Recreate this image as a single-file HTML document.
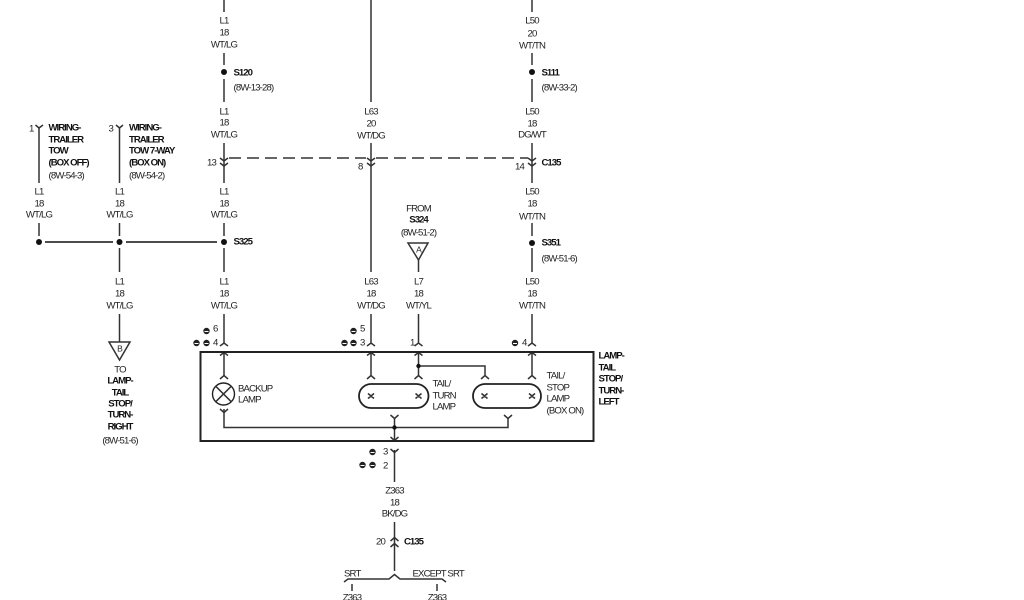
<!DOCTYPE html>
<html><head><meta charset="utf-8"><style>
html,body{margin:0;padding:0;background:#fff}
svg{display:block;filter:blur(.35px)}
text{font-family:"Liberation Sans",sans-serif;font-size:9.6px;fill:#222;letter-spacing:-.85px}
.c{text-anchor:middle}
.b{font-weight:bold;fill:#111;letter-spacing:-1px}
.w{fill:none;stroke:#333;stroke-width:1.5}
.k{fill:none;stroke:#222;stroke-width:2}
</style></head><body>
<svg width="1024" height="600" viewBox="0 0 1024 600" xmlns="http://www.w3.org/2000/svg">
<!-- wires -->
<path class="w" d="M39 127V183M39 223V236M119.500 127V183M119.500 223V236M119.500 248V272M119.500 314V342M224 0V12M224 53V65M224 79V102M224 143V183M224 223V236M224 248V272M224 314V343M224 352V375M224 409V427.500H508V418M371 0V102M371 143V272M371 314V343M371 352V375M532 0V12M532 53V65M532 79V102M532 143V183M532 223V236M532 248V272M532 314V343M532 352V375M418.500 260V272M418.500 314V343M418.500 352V375M418.500 366H485V375M394.500 418V441M394.500 450V482M394.500 522V571"/>
<path class="w" d="M45 242H113M126 242H217" style="stroke-width:1.800"/>
<path class="w" d="M229 158H241M247 158H366M376 158H528" style="stroke-dasharray:12 6"/>
<!-- connectors -->
<path class="w" d="M35.500 125L39 128L43 125M116 125L119.500 128L123 125
M220 158L224 161L228 158M220 163L224 166L228 163
M367 158L371 161L375 158M367 163L371 166L375 163
M528 158L532 161L536 158M528 163L532 166L536 163
M220 346L224 343L228 346M220 355.500L224 352.500L228 355.500M220 379L224 375.500L228 379M220 409L224 412.500L228 409
M367 346L371 343L375 346M367 355.500L371 352.500L375 355.500M367 379L371 375.500L375 379
M414.500 346L418.500 343L422.500 346M414.500 355.500L418.500 352.500L422.500 355.500M414.500 379L418.500 375.500L422.500 379
M481 379L485 375.500L489 379
M528 346L532 343L536 346M528 355.500L532 352.500L536 355.500M528 379L532 375.500L536 379
M504 415L508 418.500L512 415
M390.500 415L394.500 418.500L398.500 415M390.500 437L394.500 440.500L398.500 437
M390.500 449L394.500 452.500L398.500 449
M390.500 541L394.500 537.500L398.500 541M390.500 547L394.500 543.500L398.500 547
M344 582L348 579H389L394.500 574.500L400 579H442L446 582
M352 584V591M437 584V591"/>
<!-- dots -->
<g fill="#111">
<circle cx="39" cy="242" r="3"/><circle cx="119.500" cy="242" r="3"/><circle cx="224" cy="242" r="3"/>
<circle cx="224" cy="72" r="3"/><circle cx="532" cy="72" r="3"/><circle cx="532" cy="243" r="3"/>
<circle cx="418.500" cy="366" r="2.200"/><circle cx="394.500" cy="427.500" r="2.200"/>
</g>
<!-- box -->
<rect class="k" x="200.500" y="352" width="393" height="89"/>
<!-- backup lamp -->
<circle cx="223.500" cy="394" r="11" fill="none" stroke="#222" stroke-width="1.400"/>
<path class="w" d="M215.800 386.300L231.200 401.700M231.200 386.300L215.800 401.700"/>
<!-- lamps -->
<rect x="359" y="384" width="69.500" height="24" rx="12" fill="#fff" stroke="#222" stroke-width="1.800"/>
<rect x="473" y="384" width="68" height="24" rx="12" fill="#fff" stroke="#222" stroke-width="1.800"/>
<path class="w" d="M368 393.500L374 398.500M374 393.500L368 398.500M415.500 393.500L421.500 398.500M421.500 393.500L415.500 398.500M481.500 393.500L487.500 398.500M487.500 393.500L481.500 398.500M529 393.500L535 398.500M535 393.500L529 398.500"/>
<!-- triangles -->
<path class="w" d="M408 243H428L418.500 260Z"/>
<path class="w" d="M109 342H130L119.500 360Z"/>
<!-- ground symbols -->
<g fill="#222">
<circle cx="206.500" cy="331" r="3.200"/><circle cx="196.500" cy="343" r="3.200"/><circle cx="206.500" cy="343" r="3.200"/>
<circle cx="353.500" cy="331" r="3.200"/><circle cx="344.500" cy="343" r="3.200"/><circle cx="353.500" cy="343" r="3.200"/>
<circle cx="515" cy="343" r="3.200"/>
<circle cx="372.500" cy="452" r="3.200"/><circle cx="362.500" cy="465" r="3.200"/><circle cx="372.500" cy="465" r="3.200"/>
</g>
<g fill="#fff">
<rect x="204.500" y="331" width="4" height="1"/><rect x="194.500" y="343" width="4" height="1"/><rect x="204.500" y="343" width="4" height="1"/>
<rect x="351.500" y="331" width="4" height="1"/><rect x="342.500" y="343" width="4" height="1"/><rect x="351.500" y="343" width="4" height="1"/>
<rect x="513" y="343" width="4" height="1"/>
<rect x="370.500" y="452" width="4" height="1"/><rect x="360.500" y="465" width="4" height="1"/><rect x="370.500" y="465" width="4" height="1"/>
</g>
<g transform="translate(0,-0.700)">
<!-- wire labels -->
<text class="c" x="224" y="24">L1</text><text class="c" x="224" y="36">18</text><text class="c" x="224" y="48">WT/LG</text>
<text class="c" x="224" y="115">L1</text><text class="c" x="224" y="126">18</text><text class="c" x="224" y="138">WT/LG</text>
<text class="c" x="224" y="195">L1</text><text class="c" x="224" y="207">18</text><text class="c" x="224" y="218">WT/LG</text>
<text class="c" x="224" y="285">L1</text><text class="c" x="224" y="297">18</text><text class="c" x="224" y="309">WT/LG</text>
<text class="c" x="39" y="195">L1</text><text class="c" x="39" y="207">18</text><text class="c" x="39" y="218">WT/LG</text>
<text class="c" x="119.500" y="195">L1</text><text class="c" x="119.500" y="207">18</text><text class="c" x="119.500" y="218">WT/LG</text>
<text class="c" x="119.500" y="285">L1</text><text class="c" x="119.500" y="297">18</text><text class="c" x="119.500" y="309">WT/LG</text>
<text class="c" x="371" y="115">L63</text><text class="c" x="371" y="127">20</text><text class="c" x="371" y="139">WT/DG</text>
<text class="c" x="371" y="285">L63</text><text class="c" x="371" y="297">18</text><text class="c" x="371" y="309">WT/DG</text>
<text class="c" x="418.500" y="285">L7</text><text class="c" x="418.500" y="297">18</text><text class="c" x="418.500" y="309">WT/YL</text>
<text class="c" x="532" y="24">L50</text><text class="c" x="532" y="37">20</text><text class="c" x="532" y="49">WT/TN</text>
<text class="c" x="532" y="115">L50</text><text class="c" x="532" y="127">18</text><text class="c" x="532" y="138">DG/WT</text>
<text class="c" x="532" y="195">L50</text><text class="c" x="532" y="207">18</text><text class="c" x="532" y="220">WT/TN</text>
<text class="c" x="532" y="285">L50</text><text class="c" x="532" y="297">18</text><text class="c" x="532" y="309">WT/TN</text>
<text class="c" x="394.500" y="494">Z363</text><text class="c" x="394.500" y="506">18</text><text class="c" x="394.500" y="517">BK/DG</text>
<text class="c" x="352" y="601">Z363</text><text class="c" x="437" y="601">Z363</text>
<!-- from -->
<text class="c" x="418.500" y="212">FROM</text><text class="c b" x="418.500" y="223">S324</text><text class="c" x="418.500" y="236">(8W-51-2)</text>
<text class="c" x="418.500" y="253" style="font-size:8.500px">A</text>
<text class="c" x="119.500" y="352" style="font-size:8.500px">B</text>
<text class="c" x="120" y="373">TO</text><text class="c b" x="120" y="384">LAMP-</text><text class="c b" x="120" y="396">TAIL</text><text class="c b" x="120" y="407">STOP/</text><text class="c b" x="120" y="418">TURN-</text><text class="c b" x="120" y="430">RIGHT</text><text class="c" x="120" y="444">(8W-51-6)</text>
<!-- numbers -->
<text x="29" y="132">1</text><text x="108.500" y="132">3</text>
<text x="207" y="166">13</text><text x="358" y="170">8</text><text x="515" y="170">14</text>
<text x="213" y="332">6</text><text x="213" y="346">4</text>
<text x="360" y="332">5</text><text x="360" y="346">3</text>
<text x="410" y="346">1</text><text x="522" y="346">4</text>
<text x="383" y="455">3</text><text x="383" y="469">2</text>
<text x="376" y="545">20</text>
<!-- side labels -->
<text class="b" x="48.500" y="131">WIRING-</text><text class="b" x="48.500" y="143">TRAILER</text><text class="b" x="48.500" y="154">TOW</text><text class="b" x="48.500" y="166">(BOX OFF)</text><text x="48.500" y="179">(8W-54-3)</text>
<text class="b" x="129" y="131">WIRING-</text><text class="b" x="129" y="143">TRAILER</text><text class="b" x="129" y="154">TOW 7-WAY</text><text class="b" x="129" y="166">(BOX ON)</text><text x="129" y="179">(8W-54-2)</text>
<text class="b" x="233.500" y="76">S120</text><text x="233.500" y="91">(8W-13-28)</text>
<text class="b" x="541.500" y="76">S111</text><text x="541.500" y="91">(8W-33-2)</text>
<text class="b" x="233.500" y="245">S325</text>
<text class="b" x="541.500" y="246">S351</text><text x="541.500" y="262">(8W-51-6)</text>
<text class="b" x="541.500" y="166">C135</text>
<text class="b" x="404" y="545">C135</text>
<text x="238" y="392">BACKUP</text><text x="238" y="403">LAMP</text>
<text x="432.500" y="387">TAIL/</text><text x="432.500" y="399">TURN</text><text x="432.500" y="410">LAMP</text>
<text x="546.500" y="379">TAIL/</text><text x="546.500" y="391">STOP</text><text x="546.500" y="402">LAMP</text><text x="546.500" y="414">(BOX ON)</text>
<text class="b" x="598.500" y="359">LAMP-</text><text class="b" x="598.500" y="371">TAIL</text><text class="b" x="598.500" y="382">STOP/</text><text class="b" x="598.500" y="394">TURN-</text><text class="b" x="598.500" y="405">LEFT</text>
<text x="344" y="577">SRT</text><text x="412.500" y="577">EXCEPT SRT</text>
</g>
</svg>
</body></html>
